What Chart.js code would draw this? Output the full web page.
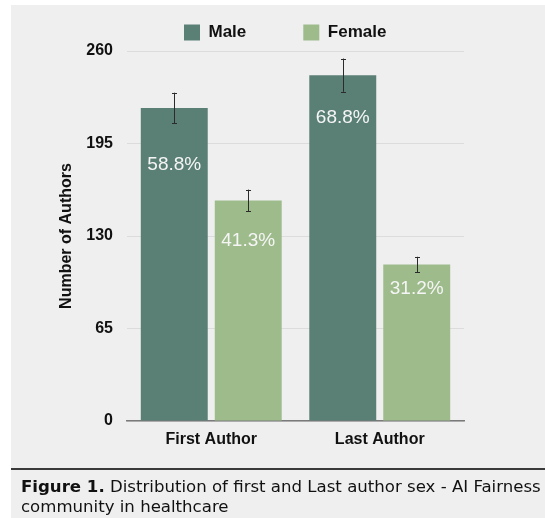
<!DOCTYPE html>
<html>
<head>
<meta charset="utf-8">
<script src="https://cdn.jsdelivr.net/npm/chart.js@4.4.1/dist/chart.umd.min.js"></script>
<style>
  html, body { margin: 0; padding: 0; background: #ffffff; }
  body { width: 545px; height: 518px; position: relative; overflow: hidden; }
  #bg { position: absolute; left: 11px; top: 5px; right: 0; bottom: 0; background: #efefef; }
  #chart { position: absolute; left: 0; top: 0; }
  #rule { position: absolute; left: 11px; right: 0; top: 468px; height: 2px; background: #3a3a3a; }
  #caption { position: absolute; left: 21px; top: 477px; font-family: "DejaVu Sans", Verdana, sans-serif;
             color: #111; line-height: 20px; white-space: nowrap; }
</style>
</head>
<body>
<div id="bg"></div>
<canvas id="chart" width="545" height="518"></canvas>
<div id="rule"></div>
<div id="caption"><b>Figure 1.</b> Distribution of first and Last author sex - AI Fairness<br>community in healthcare</div>
<script>
// ---- data ----
const categories = ['First Author', 'Last Author'];
const seriesNames = ['Male', 'Female'];
const maleCounts = [220, 243];
const femaleCounts = [155, 110];
const maleErrors = [10.7, 11.7];
const femaleErrors = [7.6, 5.4];
const malePercentLabels = ['58.8%', '68.8%'];
const femalePercentLabels = ['41.3%', '31.2%'];
const yTicks = [0, 65, 130, 195, 260];

// ---- styles ----
const MALE_COLOR = '#5a7f75';
const FEMALE_COLOR = '#9dbb8b';
const FONT = "'Liberation Sans', Arial, Helvetica, sans-serif";

// caption width fit
(function () {
  const c = document.createElement('canvas').getContext('2d');
  const base = 15;
  c.font = 'bold ' + base + 'px "DejaVu Sans"';
  let w = c.measureText('Figure 1.').width;
  c.font = base + 'px "DejaVu Sans"';
  w += c.measureText(' Distribution of first and Last author sex - AI Fairness').width;
  const target = 520;
  document.getElementById('caption').style.fontSize = (base * target / w).toFixed(2) + 'px';
})();

const annotate = {
  id: 'annotate',
  afterDatasetsDraw(chart, args, opts) {
    const ctx = chart.ctx;
    const y = chart.scales.y;
    const errs = [maleErrors, femaleErrors];
    const labels = [malePercentLabels, femalePercentLabels];
    chart.data.datasets.forEach((ds, di) => {
      const meta = chart.getDatasetMeta(di);
      meta.data.forEach((el, i) => {
        const v = ds.data[i];
        const e = errs[di][i];
        // percentage label
        ctx.save();
        ctx.fillStyle = '#f5f5f5';
        ctx.font = '19px ' + FONT;
        ctx.textAlign = 'center';
        ctx.textBaseline = 'middle';
        ctx.fillText(labels[di][i], el.x, el.y + opts.labelOffsets[di][i]);
        ctx.restore();
        // error bar
        const yt = y.getPixelForValue(v + e);
        const yb = y.getPixelForValue(v - e);
        ctx.save();
        ctx.strokeStyle = '#2b2b2b';
        ctx.lineWidth = 1;
        ctx.beginPath();
        ctx.moveTo(Math.round(el.x) + 0.5, yt);
        ctx.lineTo(Math.round(el.x) + 0.5, yb);
        ctx.moveTo(Math.round(el.x) - 2, Math.round(yt) + 0.5);
        ctx.lineTo(Math.round(el.x) + 3, Math.round(yt) + 0.5);
        ctx.moveTo(Math.round(el.x) - 2, Math.round(yb) + 0.5);
        ctx.lineTo(Math.round(el.x) + 3, Math.round(yb) + 0.5);
        ctx.stroke();
        ctx.restore();
      });
    });
  }
};

new Chart(document.getElementById('chart'), {
  type: 'bar',
  data: {
    labels: categories,
    datasets: [
      { label: seriesNames[0], data: maleCounts, backgroundColor: MALE_COLOR, borderWidth: 0,
        barPercentage: 0.905, categoryPercentage: 0.878 },
      { label: seriesNames[1], data: femaleCounts, backgroundColor: FEMALE_COLOR, borderWidth: 0,
        barPercentage: 0.905, categoryPercentage: 0.878 }
    ]
  },
  options: {
    responsive: false,
    animation: false,
    devicePixelRatio: 1,
    layout: { padding: { top: -33, left: 0, right: 81, bottom: 57 } },
    plugins: {
      tooltip: { enabled: false },
      legend: {
        position: 'top',
        align: 'start',
        fullSize: false,
        labels: {
          boxWidth: 16, boxHeight: 16, padding: 57,
          color: '#111',
          font: { family: FONT, size: 17, weight: 'bold' }
        }
      },
      annotate: { labelOffsets: [[56.6, 42.3], [40.7, 24.3]] }
    },
    scales: {
      x: {
        grid: { display: false, drawTicks: false },
        border: { display: true, color: '#7a7a7a', width: 1.5 },
        ticks: { color: '#111', padding: 9, font: { family: FONT, size: 16, weight: 'bold' } },
        afterFit(scale) { scale.height = 40; }
      },
      y: {
        min: 0, max: 260,
        afterBuildTicks(scale) { scale.ticks = yTicks.map(v => ({ value: v })); },
        grid: { color: '#dcdcdc', lineWidth: 1, drawTicks: false },
        border: { display: false },
        ticks: { color: '#111', padding: 14, font: { family: FONT, size: 16, weight: 'bold' } },
        title: { display: true, text: 'Number of Authors', color: '#111',
                 padding: { top: 57, bottom: 0 }, font: { family: FONT, size: 16, weight: 'bold' } },
        afterFit(scale) { scale.width = 127; }
      }
    }
  },
  plugins: [annotate]
});
</script>
</body>
</html>
